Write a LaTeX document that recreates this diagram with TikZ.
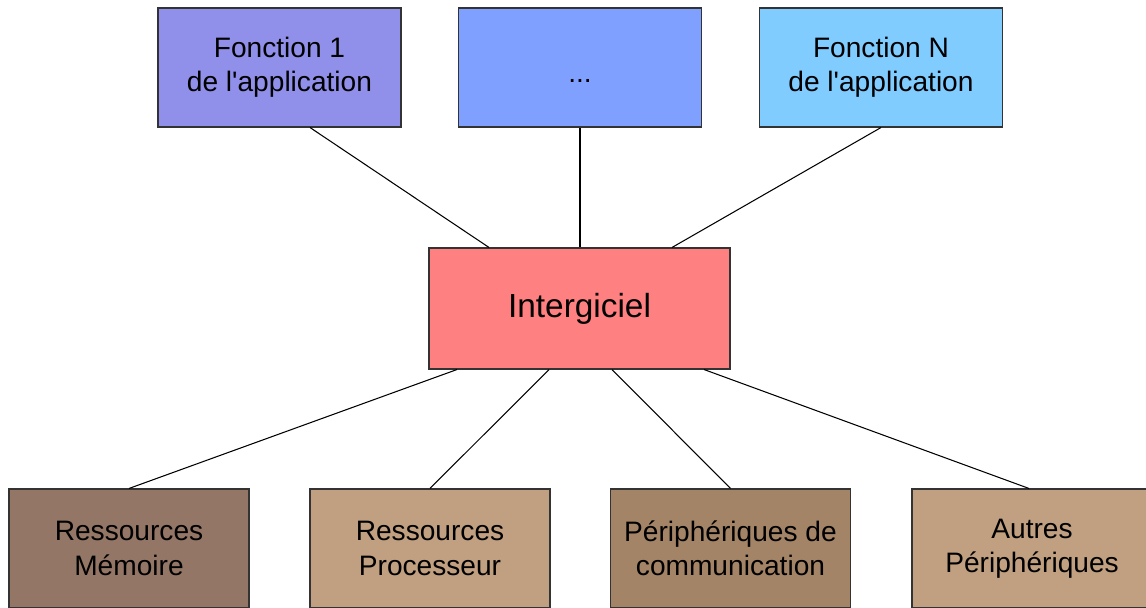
\documentclass[tikz,border=0pt]{standalone}
\usepackage{fontspec}
\setmainfont{Liberation Sans}
\definecolor{fone}{RGB}{144,144,234}
\definecolor{ftwo}{RGB}{128,160,255}
\definecolor{fthree}{RGB}{128,204,255}
\definecolor{inter}{RGB}{255,128,128}
\definecolor{bone}{RGB}{148,118,102}
\definecolor{btwo}{RGB}{192,160,128}
\definecolor{bthree}{RGB}{164,132,102}
\begin{document}
\begin{tikzpicture}[every node/.style={draw=black!80,line width=0.6pt,align=center,font=\fontsize{16}{19.5}\selectfont},
  topbox/.style={minimum width=4.86cm,minimum height=2.38cm},
  botbox/.style={minimum width=4.8cm,minimum height=2.38cm}]
\useasboundingbox (0,0) rectangle (22.92,-12.16);
\clip (0,0) rectangle (22.92,-12.16);
\node[topbox,fill=fone] (1) at (5.59,-1.35) {Fonction 1\\de l\textquotesingle application};
\node[topbox,fill=ftwo,text height=0.72cm,text depth=0.1cm] (2) at (11.6,-1.35) {...};
\node[topbox,fill=fthree] (3) at (17.62,-1.35) {Fonction N\\de l\textquotesingle application};
\node[fill=inter,minimum width=6.02cm,minimum height=2.42cm,font=\fontsize{19}{22}\selectfont] (4) at (11.59,-6.17) {Intergiciel};
\node[botbox,fill=bone] (5) at (2.58,-10.97) {Ressources\\Mémoire};
\node[botbox,fill=btwo] (6) at (8.6,-10.97) {Ressources\\Processeur};
\node[botbox,fill=bthree] (7) at (14.61,-10.97) {Périphériques de\\communication};
\node[botbox,fill=btwo] (8) at (20.64,-10.97) {Autres\\Périphériques};
\draw[line width=0.6pt] ([xshift=0.61cm]1.south) -- ([xshift=-1.81cm]4.north);
\draw[line width=0.6pt] (2.south) -- (2.south |- 4.north);
\draw[line width=0.6pt] (3.south) -- ([xshift=1.85cm]4.north);
\draw[line width=0.6pt] ([xshift=-2.45cm]4.south) -- (5.north);
\draw[line width=0.6pt] ([xshift=-0.61cm]4.south) -- (6.north);
\draw[line width=0.6pt] ([xshift=0.65cm]4.south) -- (7.north);
\draw[line width=0.6pt] ([xshift=2.49cm]4.south) -- ([xshift=-0.06cm]8.north);
\end{tikzpicture}
\end{document}
